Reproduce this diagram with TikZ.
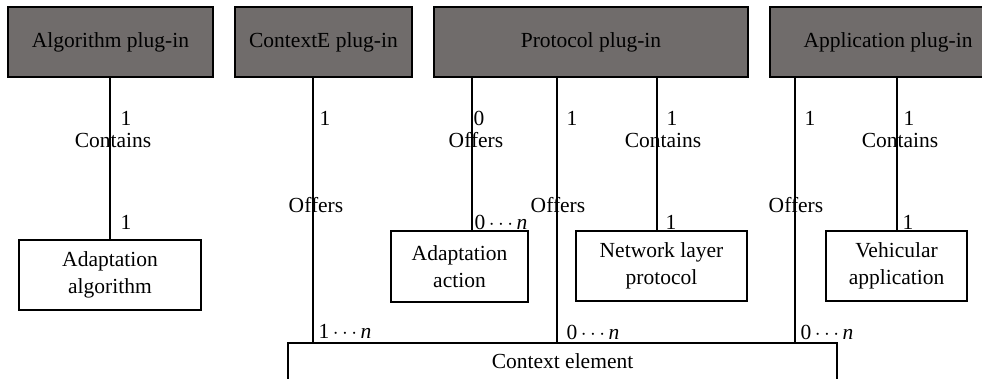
\documentclass[tikz,border=0pt]{standalone}
\usepackage{fontspec}
\setmainfont{Liberation Serif}
\usepackage{xcolor}
\usetikzlibrary{positioning}

\definecolor{plugfill}{RGB}{112,108,107}

\tikzset{
  plugin/.style={draw=black, fill=plugfill, minimum height=70pt, inner sep=0pt},
  entity/.style={draw=black, fill=white, align=center, inner sep=0pt},
  mult/.style={anchor=west, inner sep=0pt},
  role/.style={inner sep=0pt},
}

\begin{document}
\begin{tikzpicture}[x=1pt,y=-1pt,line width=1.2pt,
    font=\fontsize{21.5}{27}\selectfont]
  \useasboundingbox (0,0) rectangle (982,379);
  \clip (0,0) rectangle (982,379);

  % plug-ins
  \node[plugin, minimum width=205pt] (algP)  at (110.5,42) {Algorithm plug-in};
  \node[plugin, minimum width=177pt] (ctxP)  at (323.5,42) {ContextE plug-in};
  \node[plugin, minimum width=314pt] (protP) at (591,42)   {Protocol plug-in};
  \node[plugin, minimum width=236pt] (appP)  at (888,42)   {Application plug-in};

  % elements
  \node[entity, minimum width=182pt, minimum height=70pt] (adAlg) at (110,275)   {Adaptation\\algorithm};
  \node[entity, minimum width=137pt, minimum height=71pt] (adAct) at (459.5,266.5) {Adaptation\\action};
  \node[entity, minimum width=171pt, minimum height=70pt] (netP)  at (661.5,266) {Network layer\\protocol};
  \node[entity, minimum width=141pt, minimum height=70pt] (vehA)  at (896.5,266) {Vehicular\\application};
  \node[entity, minimum width=549pt, minimum height=36.2pt] (ctxEl) at (562.5,361.1) {Context element};

  % link positions
  \coordinate (xAlg) at (110,0);
  \coordinate (xCtx) at (313,0);
  \coordinate (xAct) at (472,0);
  \coordinate (xPro) at (557,0);
  \coordinate (xNet) at (657,0);
  \coordinate (xApp) at (795,0);
  \coordinate (xVeh) at (897,0);

  % links
  \draw (algP.south -| xAlg) -- (adAlg.north -| xAlg);
  \draw (ctxP.south -| xCtx) -- (ctxEl.north -| xCtx);
  \draw (protP.south -| xAct) -- (adAct.north -| xAct);
  \draw (protP.south -| xPro) -- (ctxEl.north -| xPro);
  \draw (protP.south -| xNet) -- (netP.north -| xNet);
  \draw (appP.south -| xApp) -- (ctxEl.north -| xApp);
  \draw (appP.south -| xVeh) -- (vehA.north -| xVeh);

  % multiplicities and roles
  \node[mult] (m1) at (120,118) {1};
  \node[role] (r1) at (113,140) {Contains};
  \node[mult] (m2) at (120,222) {1};

  \node[mult] (m3) at (319,118) {1};
  \node[role] (r2) at (316,205) {Offers};
  \node[mult] (m4) at (318,331) {1\,$\cdots$\,\textit{n}};

  \node[mult] (m5) at (473,118) {0};
  \node[role] (r3) at (476,140) {Offers};
  \node[mult] (m6) at (474,222) {0\,$\cdots$\,\textit{n}};

  \node[mult] (m7) at (566,118) {1};
  \node[role] (r4) at (558,205) {Offers};
  \node[mult] (m8) at (566,332) {0\,$\cdots$\,\textit{n}};

  \node[mult] (m9) at (666,118) {1};
  \node[role] (r5) at (663,140) {Contains};
  \node[mult] (m10) at (665,222) {1};

  \node[mult] (m11) at (804,118) {1};
  \node[role] (r6) at (796,205) {Offers};
  \node[mult] (m12) at (800,332) {0\,$\cdots$\,\textit{n}};

  \node[mult] (m13) at (903,118) {1};
  \node[role] (r7) at (900,140) {Contains};
  \node[mult] (m14) at (902,222) {1};
\end{tikzpicture}
\end{document}
